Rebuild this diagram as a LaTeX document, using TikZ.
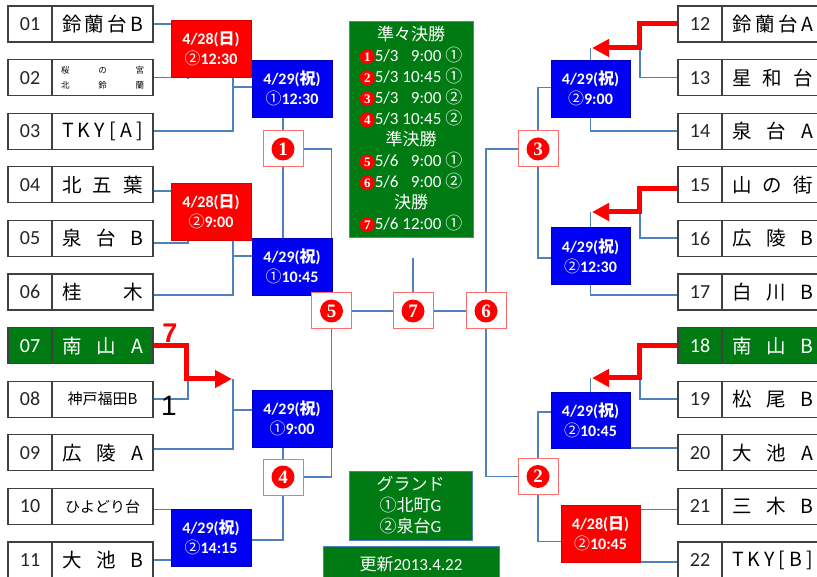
\documentclass[tikz,border=0pt]{standalone}
\usepackage{fontspec}
\setmainfont{Carlito}
\newfontfamily\cjk{Noto Sans CJK JP}
\newfontfamily\serifbf{Liberation Serif}
\newfontfamily\arialf{Liberation Sans}
\usetikzlibrary{arrows.meta,backgrounds,calc}
\definecolor{lnk}{RGB}{79,129,189}
\definecolor{gr}{RGB}{0,122,18}
\definecolor{rd}{RGB}{255,0,0}
\definecolor{bl}{RGB}{0,0,245}
\definecolor{bd}{RGB}{64,64,64}
\definecolor{nbd}{RGB}{255,110,110}
\newcommand\nc[3]{\tikz[baseline=(c.base)]\node[circle,fill=red,text=white,inner sep=0pt,minimum size=#2,font=\serifbf\bfseries\fontsize{#3}{#3}\selectfont](c){#1};}
\newcommand\jt[2]{\hbox to #1{#2}}
\tikzset{
  team/.style={draw=bd,line width=1.2pt,minimum height=36pt,inner sep=0pt,fill=white},
  numb/.style={team,minimum width=44pt,font=\fontsize{20}{20}\selectfont,text=black!85},
  nameb/.style={team,minimum width=101pt,font=\cjk\fontsize{19.5}{19.5}\selectfont},
  gteam/.style={fill=gr,text=white},
  game/.style={minimum width=80pt,minimum height=57pt,inner sep=0pt,text=white,align=center,font=\bfseries\fontsize{16}{20}\selectfont,line width=0.5pt},
  redg/.style={game,fill=rd,draw=rd!85!black},
  blueg/.style={game,fill=bl,draw=bl!75!black},
  numbox/.style={draw=nbd,fill=white,line width=1pt,minimum width=40pt,minimum height=36pt,inner sep=0pt},
  link/.style={draw=lnk,line width=1.8pt},
  win/.style={draw=red,line width=5pt,line join=miter,-{Triangle[length=17pt,width=17pt]}},
  info/.style={fill=gr,text=white,align=center,draw=lnk,line width=0.8pt,inner sep=0pt,font=\fontsize{17}{21}\selectfont},
  lbl/.style={font=\arialf\fontsize{28}{28}\selectfont,inner sep=0pt}
}
\begin{document}
\begin{tikzpicture}[x=1pt,y=-1pt]
\useasboundingbox (0,0) rectangle (817,577);
\clip (0,0) rectangle (817,577);
% ---------- left teams ----------
\node[numb] (n01) at (30,24) {01};
\node[nameb] (t01) at (102.5,24) {\jt{81pt}{鈴\hfill 蘭\hfill 台\hfill B}};
\node[numb] (n02) at (30,77.6) {02};
\node[nameb,align=center,font=\cjk\fontsize{8.5}{15.5}\selectfont] (t02) at (102.5,77.6) {\jt{83pt}{桜\hfill の\hfill 宮}\\\jt{83pt}{北\hfill 鈴\hfill 蘭}};
\node[numb] (n03) at (30,131.2) {03};
\node[nameb] (t03) at (102.5,131.2) {\jt{81pt}{T\hfill K\hfill Y\hfill [\hfill A\hfill ]}};
\node[numb] (n04) at (30,184.8) {04};
\node[nameb] (t04) at (102.5,184.8) {\jt{81pt}{北\hfill 五\hfill 葉}};
\node[numb] (n05) at (30,238.4) {05};
\node[nameb] (t05) at (102.5,238.4) {\jt{81pt}{泉\hfill 台\hfill B}};
\node[numb] (n06) at (30,292) {06};
\node[nameb] (t06) at (102.5,292) {\jt{81pt}{桂\hfill 木}};
\node[numb,gteam] (n07) at (30,345.6) {07};
\node[nameb,gteam] (t07) at (102.5,345.6) {\jt{81pt}{南\hfill 山\hfill A}};
\node[numb] (n08) at (30,399.2) {08};
\node[nameb,font=\cjk\fontsize{15}{15}\selectfont] (t08) at (102.5,399.2) {神戸福田B};
\node[numb] (n09) at (30,452.8) {09};
\node[nameb] (t09) at (102.5,452.8) {\jt{81pt}{広\hfill 陵\hfill A}};
\node[numb] (n10) at (30,506.4) {10};
\node[nameb,font=\cjk\fontsize{15}{15}\selectfont] (t10) at (102.5,506.4) {ひよどり台};
\node[numb] (n11) at (30,560) {11};
\node[nameb] (t11) at (102.5,560) {\jt{81pt}{大\hfill 池\hfill B}};
% ---------- right teams ----------
\node[numb] (n12) at (700,24) {12};
\node[nameb] (t12) at (772.5,24) {\jt{81pt}{鈴\hfill 蘭\hfill 台\hfill A}};
\node[numb] (n13) at (700,77.6) {13};
\node[nameb] (t13) at (772.5,77.6) {\jt{81pt}{星\hfill 和\hfill 台}};
\node[numb] (n14) at (700,131.2) {14};
\node[nameb] (t14) at (772.5,131.2) {\jt{81pt}{泉\hfill 台\hfill A}};
\node[numb] (n15) at (700,184.8) {15};
\node[nameb] (t15) at (772.5,184.8) {\jt{81pt}{山\hfill の\hfill 街}};
\node[numb] (n16) at (700,238.4) {16};
\node[nameb] (t16) at (772.5,238.4) {\jt{81pt}{広\hfill 陵\hfill B}};
\node[numb] (n17) at (700,292) {17};
\node[nameb] (t17) at (772.5,292) {\jt{81pt}{白\hfill 川\hfill B}};
\node[numb,gteam] (n18) at (700,345.6) {18};
\node[nameb,gteam] (t18) at (772.5,345.6) {\jt{81pt}{南\hfill 山\hfill B}};
\node[numb] (n19) at (700,399.2) {19};
\node[nameb] (t19) at (772.5,399.2) {\jt{81pt}{松\hfill 尾\hfill B}};
\node[numb] (n20) at (700,452.8) {20};
\node[nameb] (t20) at (772.5,452.8) {\jt{81pt}{大\hfill 池\hfill A}};
\node[numb] (n21) at (700,506.4) {21};
\node[nameb] (t21) at (772.5,506.4) {\jt{81pt}{三\hfill 木\hfill B}};
\node[numb] (n22) at (700,560) {22};
\node[nameb] (t22) at (772.5,560) {\jt{81pt}{T\hfill K\hfill Y\hfill [\hfill B\hfill ]}};
% ---------- game boxes ----------
\node[redg] (L1) at (211,49) {4/28({\cjk 日})\\{\cjk\mdseries ②}12:30};
\node[blueg] (B1) at (292,88.5) {4/29({\cjk 祝})\\{\cjk\mdseries ①}12:30};
\node[redg] (L2) at (211,212) {4/28({\cjk 日})\\{\cjk\mdseries ②}9:00};
\node[blueg] (B2) at (292,266.5) {4/29({\cjk 祝})\\{\cjk\mdseries ①}10:45};
\node[blueg] (B3) at (292,418.5) {4/29({\cjk 祝})\\{\cjk\mdseries ①}9:00};
\node[blueg] (B4) at (211,537.5) {4/29({\cjk 祝})\\{\cjk\mdseries ②}14:15};
\node[blueg,minimum width=79pt] (R1) at (590.5,88.5) {4/29({\cjk 祝})\\{\cjk\mdseries ②}9:00};
\node[blueg,minimum width=79pt] (R2) at (590.5,256) {4/29({\cjk 祝})\\{\cjk\mdseries ②}12:30};
\node[blueg,minimum width=79pt,minimum height=56pt] (R3) at (590.5,420) {4/29({\cjk 祝})\\{\cjk\mdseries ②}10:45};
\node[redg,minimum width=79pt] (R4) at (600.5,533.5) {4/28({\cjk 日})\\{\cjk\mdseries ②}10:45};
% ---------- numbered match boxes ----------
\node[numbox] (m1) at (283,149) {\nc{1}{23pt}{19}};
\node[numbox] (m4) at (283,477) {\nc{4}{23pt}{19}};
\node[numbox] (m5) at (331.5,311) {\nc{5}{23pt}{19}};
\node[numbox] (m7) at (413,311) {\nc{7}{23pt}{19}};
\node[numbox] (m6) at (486,311) {\nc{6}{23pt}{19}};
\node[numbox] (m3) at (538,149) {\nc{3}{23pt}{19}};
\node[numbox] (m2) at (538,476.5) {\nc{2}{23pt}{19}};
% ---------- info boxes ----------
\node[info,minimum width=124pt,minimum height=216pt] (G1) at (411,129) {%
{\cjk 準々決勝}\\
\nc{1}{15pt}{13}5/3 \phantom{1}9:00 {\cjk ①}\\
\nc{2}{15pt}{13}5/3 10:45 {\cjk ①}\\
\nc{3}{15pt}{13}5/3 \phantom{1}9:00 {\cjk ②}\\
\nc{4}{15pt}{13}5/3 10:45 {\cjk ②}\\
{\cjk 準決勝}\\
\nc{5}{15pt}{13}5/6 \phantom{1}9:00 {\cjk ①}\\
\nc{6}{15pt}{13}5/6 \phantom{1}9:00 {\cjk ②}\\
{\cjk 決勝}\\
\nc{7}{15pt}{13}5/6 12:00 {\cjk ①}};
\node[info,minimum width=123pt,minimum height=69pt] (G2) at (410.5,505.5) {{\cjk グランド}\\{\cjk ①北町}G\\{\cjk ②泉台}G};
\node[info,minimum width=176pt,minimum height=36pt] (G3) at (411,564) {{\cjk 更新}2013.4.22};
% ---------- labels ----------
\node[lbl,text=red,font=\arialf\bfseries\fontsize{27}{27}\selectfont] (lab7) at (170,333) {7};
\node[lbl] (lab1) at (169,406) {1};
% ---------- coordinates ----------
\coordinate (j1) at (233,87);
\coordinate (j2) at (233,256);
\coordinate (j3) at (233,410);
\coordinate (a3) at (232,379);
\coordinate (a12) at (592,48);
\coordinate (a15) at (592,212);
\coordinate (a18) at (592,378);
\coordinate (top7) at (413,258);
% ---------- connectors ----------
\begin{scope}[on background layer]
\draw[link] (t01.east) -- (t01.east -| L1.west);
\draw[link] (t02.east) -| ($(L1.south west)+(17,0)$);
\draw[link] (L1.south -| j1) |- (t03.east);
\draw[link] (j1) -- (j1 -| B1.west);
\draw[link] ([yshift=-6pt]t04.east) -- ([yshift=-6pt]t04.east -| L2.west);
\draw[link] ([yshift=-5pt]t05.east) -| ($(L2.south west)+(17,0)$);
\draw[link] (L2.south -| j2) |- ([yshift=-3pt]t06.east);
\draw[link] (j2) -- (j2 -| B2.west);
\draw[link] (t08.east) -| ($(a3)+(-44,0)$);
\draw[link] ($(a3)+(1,0)$) |- ([yshift=4pt]t09.east);
\draw[link] (j3) -- (j3 -| B3.west);
\draw[win] (t07.east) -- ++(33,0) |- (a3);
\draw[link] ([yshift=-3pt]t10.east) -- ([yshift=-3pt]t10.east -| B4.west);
\draw[link] (t11.east) -- (t11.east -| B4.west);
\draw[link] ([yshift=-2.5pt]B4.east) -| (m4.south);
\draw[link] (m4.north) -- (m4.north |- B3.south);
\draw[link] (m4.east) -| (m5.south);
\draw[link] (m1.north) -- (m1.north |- B1.south);
\draw[link] (m1.south) -- (m1.south |- B2.north);
\draw[link] (m1.east) -| (m5.north);
\draw[link] (m5.east) -- (m7.west);
\draw[link] (m7.east) -- (m6.west);
\draw[link] (m7.north) -- (top7);
\draw[link] (m6.north) |- (m3.west);
\draw[link] (m6.south) |- (m2.west);
\draw[link] (m3.north) |- ([yshift=1pt]R1.west);
\draw[link] (m3.south) |- ([yshift=-2pt]R2.west);
\draw[link] (m2.north) |- ([yshift=8pt]R3.west);
\draw[link] (m2.south) |- ([yshift=-8pt]R4.west);
% right side
\draw[link] (n13.west) -| ($(a12)+(48,0)$);
\draw[link] (R1.north) -- (R1.north |- a12);
\draw[win] (n12.west) -- ++(-38,0) |- (a12);
\draw[link] (R1.south) |- (n14.west);
\draw[link] (n16.west) -| ($(a15)+(48,0)$);
\draw[link] (R2.north) -- (R2.north |- a15);
\draw[win] ([yshift=-4pt]n15.west) -- ++(-38,0) |- (a15);
\draw[link] (R2.south) |- ([yshift=-3pt]n17.west);
\draw[link] (n19.west) -| ($(a18)+(48,0)$);
\draw[link] (R3.north) -- (R3.north |- a18);
\draw[win] (n18.west) -- ++(-38,0) |- (a18);
\draw[link] (n20.west |- R3.south) -- (R3.south);
\draw[link] ([yshift=-3pt]n21.west) -- ([yshift=-3pt]n21.west -| R4.east);
\draw[link] (n22.west |- R4.south) -- (R4.south);
\end{scope}
\end{tikzpicture}
\end{document}
